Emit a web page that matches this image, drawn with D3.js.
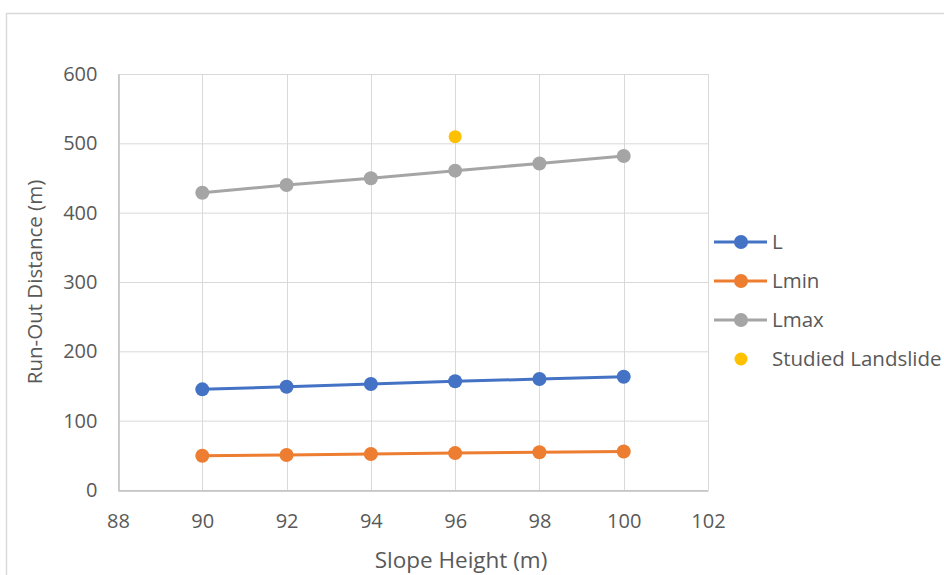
<!DOCTYPE html>
<html>
<head>
<meta charset="utf-8">
<script src="https://cdn.jsdelivr.net/npm/d3@7"></script>
<style>
  html, body { margin: 0; padding: 0; background: #fff; }
  svg { display: block; }
  text { font-family: "Open Sans", "Noto Sans", sans-serif; fill: #595959; }
</style>
</head>
<body>
<svg id="chart" width="944" height="575"></svg>
<script>
// Slope height (m) and run-out distances (m)
const slopeHeight = [90, 92, 94, 96, 98, 100];
const seriesL    = [145.2, 149.0, 152.9, 156.8, 160.0, 163.4];
const seriesLmin = [49.5, 50.5, 51.9, 53.2, 54.4, 55.6];
const seriesLmax = [428.8, 440.0, 449.6, 460.6, 471.0, 481.7];
const studiedHeight = [96];
const studiedDistance = [509.6];
const xTicks = [88, 90, 92, 94, 96, 98, 100, 102];
const yTicks = [0, 100, 200, 300, 400, 500, 600];

const series = [
  { name: "L",    values: seriesL,    color: "#4472C4" },
  { name: "Lmin", values: seriesLmin, color: "#ED7D31" },
  { name: "Lmax", values: seriesLmax, color: "#A5A5A5" }
];

const svg = d3.select("#chart");

// outer chart frame
svg.append("rect")
  .attr("x", 6.5).attr("y", 13.5)
  .attr("width", 960).attr("height", 600)
  .attr("fill", "none").attr("stroke", "#d9d9d9").attr("stroke-width", 1.5);

const plot = { left: 118, right: 708, top: 74, bottom: 490 };

const x = d3.scaleLinear().domain([88, 102]).range([plot.left, plot.right]);
const y = d3.scaleLinear().domain([0, 600]).range([plot.bottom, plot.top]);

// gridlines
const grid = svg.append("g");
grid.selectAll("line.h").data(yTicks).join("line")
  .attr("x1", plot.left).attr("x2", plot.right)
  .attr("y1", d => y(d) + 0.5).attr("y2", d => y(d) + 0.5)
  .attr("stroke", "#d9d9d9").attr("stroke-width", 1);
grid.selectAll("line.v").data(xTicks).join("line")
  .attr("y1", plot.top).attr("y2", plot.bottom)
  .attr("x1", d => Math.round(x(d)) + 0.5).attr("x2", d => Math.round(x(d)) + 0.5)
  .attr("stroke", "#d9d9d9").attr("stroke-width", 1);

// axes
const xAxis = svg.append("g")
  .attr("transform", `translate(0,${plot.bottom + 0.5})`)
  .call(d3.axisBottom(x).tickValues(xTicks).tickSize(0).tickPadding(23));
xAxis.select(".domain").attr("stroke", "#bfbfbf").attr("stroke-width", 1.5);
xAxis.selectAll("text").style("font-size", "20px").attr("fill", "#595959");

const yAxis = svg.append("g")
  .attr("transform", `translate(${plot.left + 0.5},0)`)
  .call(d3.axisLeft(y).tickValues(yTicks).tickSize(0).tickPadding(21));
yAxis.select(".domain").attr("stroke", "#bfbfbf").attr("stroke-width", 1.5);
yAxis.selectAll("text").style("font-size", "20px").attr("fill", "#595959");

// axis titles
svg.append("text")
  .attr("x", 461).attr("y", 568)
  .attr("text-anchor", "middle").style("font-size", "22.5px")
  .text("Slope Height (m)");
svg.append("text")
  .attr("transform", `translate(42,${(plot.top + plot.bottom) / 2}) rotate(-90)`)
  .attr("text-anchor", "middle").style("font-size", "20.5px")
  .text("Run-Out Distance (m)");

// series lines and markers
const line = d3.line().x((d, i) => x(slopeHeight[i])).y(d => y(d));
series.forEach(s => {
  svg.append("path")
    .attr("d", line(s.values))
    .attr("fill", "none").attr("stroke", s.color).attr("stroke-width", 3);
  svg.append("g").selectAll("circle").data(s.values).join("circle")
    .attr("cx", (d, i) => x(slopeHeight[i])).attr("cy", d => y(d))
    .attr("r", 7).attr("fill", s.color);
});

// studied landslide point
svg.append("g").selectAll("circle").data(studiedDistance).join("circle")
  .attr("cx", (d, i) => x(studiedHeight[i])).attr("cy", d => y(d))
  .attr("r", 6.5).attr("fill", "#FFC000");

// legend
const legendItems = [
  ...series.map(s => ({ name: s.name, color: s.color, line: true })),
  { name: "Studied Landslide", color: "#FFC000", line: false }
];
const legend = svg.append("g");
legendItems.forEach((it, i) => {
  const cy = 242 + i * 39;
  if (it.line) {
    legend.append("line")
      .attr("x1", 714).attr("x2", 767).attr("y1", cy).attr("y2", cy)
      .attr("stroke", it.color).attr("stroke-width", 3);
  }
  legend.append("circle").attr("cx", 741).attr("cy", cy).attr("r", it.line ? 7 : 6.5)
    .attr("fill", it.color);
  legend.append("text").attr("x", 772).attr("y", cy).attr("dy", "0.35em")
    .style("font-size", "20.5px").text(it.name);
});
</script>
</body>
</html>
